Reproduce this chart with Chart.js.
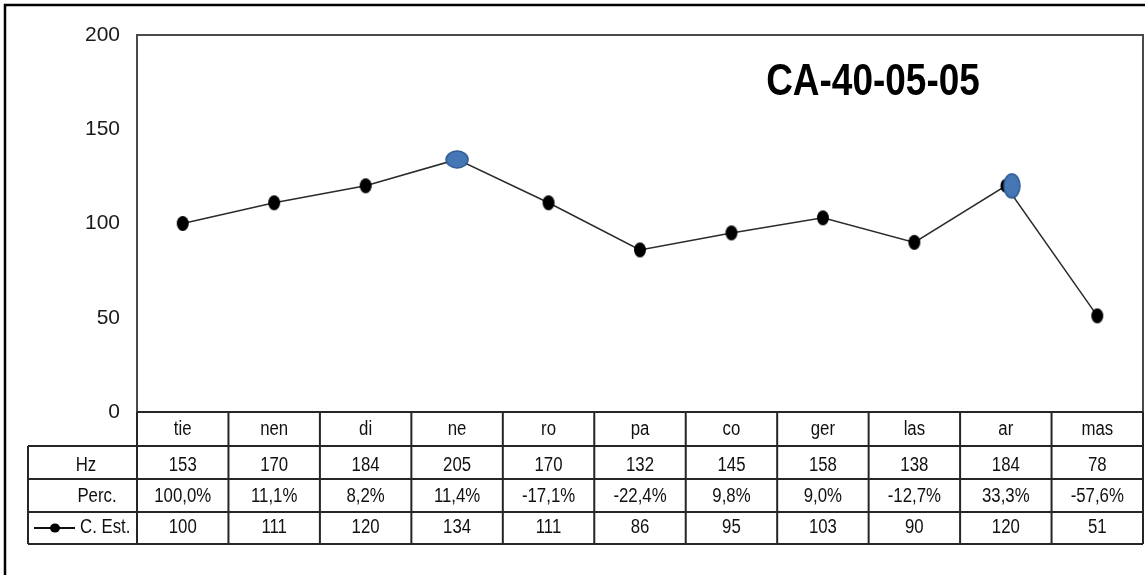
<!DOCTYPE html>
<html>
<head>
<meta charset="utf-8">
<script src="https://cdn.jsdelivr.net/npm/chart.js@4.4.1/dist/chart.umd.min.js"></script>
<style>
  html, body { margin: 0; padding: 0; background: #fff; }
  canvas { display: block; }
</style>
</head>
<body>
<canvas id="chart" width="1145" height="575"></canvas>
<script>
var categories = ['tie', 'nen', 'di', 'ne', 'ro', 'pa', 'co', 'ger', 'las', 'ar', 'mas'];
var hz         = [153, 170, 184, 205, 170, 132, 145, 158, 138, 184, 78];
var perc       = ['100,0%', '11,1%', '8,2%', '11,4%', '-17,1%', '-22,4%', '9,8%', '9,0%', '-12,7%', '33,3%', '-57,6%'];
var cEst       = [100, 111, 120, 134, 111, 86, 95, 103, 90, 120, 51];
var yTicks     = [0, 50, 100, 150, 200];

var chartTitle = 'CA-40-05-05';
var FONT = '"Liberation Sans", Arial, sans-serif';

// marker shapes (the picture is slightly squeezed, so dots are ellipses)
function ellipseCanvas (w, h, fill, stroke, dx, under) {
  var c = document.createElement('canvas');
  var pad = Math.abs(dx || 0);
  c.width = Math.ceil(w + 2 + pad * 2);
  c.height = Math.ceil(h + 2);
  var g = c.getContext('2d');
  var cx = c.width / 2, cy = c.height / 2;
  if (under) {
    g.fillStyle = '#000';
    g.beginPath();
    g.ellipse(cx, cy, 5.5, 7, 0, 0, Math.PI * 2);
    g.fill();
  }
  g.fillStyle = fill;
  g.beginPath();
  g.ellipse(cx + (dx || 0), cy, w / 2, h / 2, 0, 0, Math.PI * 2);
  g.fill();
  if (stroke) {
    g.strokeStyle = stroke;
    g.lineWidth = 1.5;
    g.stroke();
  }
  return c;
}

var dot    = ellipseCanvas(12, 15, '#000');
var blueNe = ellipseCanvas(22, 17, '#4677b5', '#2d5a92');
var blueAr = ellipseCanvas(16, 24, '#4677b5', '#2d5a92', 6, true);

var markers = categories.map(function (c) {
  if (c === 'ne') return blueNe;
  if (c === 'ar') return blueAr;
  return dot;
});

function squeezedText (ctx, text, x, y, font, align, sx) {
  ctx.save();
  ctx.font = font;
  ctx.textAlign = align;
  ctx.textBaseline = 'alphabetic';
  ctx.translate(x, y);
  ctx.scale(sx, 1);
  ctx.fillText(text, 0, 0);
  ctx.restore();
}

var tablePlugin = {
  id: 'dataTable',
  afterDraw: function (chart) {
    var ctx = chart.ctx;
    var area = chart.chartArea;
    var xs = chart.scales.x;
    var colW = xs.getPixelForValue(1) - xs.getPixelForValue(0);
    var rowH = 33;
    var rows = [area.bottom, area.bottom + 34, area.bottom + 34 + rowH, area.bottom + 34 + rowH * 2, area.bottom + 34 + rowH * 3 - 1];
    var headLeft = 28;
    var tableFont = '20px ' + FONT;

    ctx.save();

    // outer frame
    ctx.strokeStyle = '#000';
    ctx.lineWidth = 2.5;
    ctx.beginPath();
    ctx.moveTo(5, chart.height);
    ctx.lineTo(5, 5);
    ctx.lineTo(chart.width, 5);
    ctx.stroke();

    // plot area border
    ctx.strokeStyle = '#4a4a4a';
    ctx.lineWidth = 2;
    ctx.strokeRect(area.left, area.top, area.right - area.left, area.bottom - area.top);

    // table grid
    ctx.strokeStyle = '#262626';
    ctx.lineWidth = 2;
    ctx.beginPath();
    ctx.moveTo(area.left, rows[0]);
    ctx.lineTo(area.right, rows[0]);
    for (var r = 1; r < rows.length; r++) {
      ctx.moveTo(headLeft, rows[r]);
      ctx.lineTo(area.right, rows[r]);
    }
    ctx.moveTo(headLeft, rows[1]);
    ctx.lineTo(headLeft, rows[4]);
    for (var i = 0; i <= categories.length; i++) {
      var bx = xs.getPixelForValue(0) - colW / 2 + i * colW;
      ctx.moveTo(bx, rows[0]);
      ctx.lineTo(bx, rows[4]);
    }
    ctx.stroke();

    // cell texts
    ctx.fillStyle = '#111';
    categories.forEach(function (c, i) {
      var cx = xs.getPixelForValue(i);
      squeezedText(ctx, c, cx, rows[0] + 23, tableFont, 'center', 0.84);
      squeezedText(ctx, String(hz[i]), cx, rows[1] + 25, tableFont, 'center', 0.84);
      squeezedText(ctx, perc[i], cx, rows[2] + 23, tableFont, 'center', 0.84);
      squeezedText(ctx, String(cEst[i]), cx, rows[3] + 21, tableFont, 'center', 0.84);
    });

    // row headers
    squeezedText(ctx, 'Hz', 86, rows[1] + 25, tableFont, 'center', 0.84);
    squeezedText(ctx, 'Perc.', 97, rows[2] + 23, tableFont, 'center', 0.84);
    squeezedText(ctx, 'C. Est.', 80, rows[3] + 21, tableFont, 'left', 0.84);

    // legend key
    var ky = rows[3] + 16;
    ctx.strokeStyle = '#111';
    ctx.lineWidth = 2;
    ctx.beginPath();
    ctx.moveTo(34, ky);
    ctx.lineTo(75, ky);
    ctx.stroke();
    ctx.fillStyle = '#000';
    ctx.beginPath();
    ctx.ellipse(55, ky, 5, 4.5, 0, 0, Math.PI * 2);
    ctx.fill();

    // title inside the plot
    ctx.fillStyle = '#000';
    squeezedText(ctx, chartTitle, 873, 95, 'bold 44px ' + FONT, 'center', 0.84);

    ctx.restore();
  }
};

new Chart(document.getElementById('chart'), {
  type: 'line',
  data: {
    labels: categories,
    datasets: [{
      label: 'C. Est.',
      data: cEst,
      borderColor: '#2b2b2b',
      borderWidth: 1.5,
      tension: 0,
      pointStyle: markers,
      pointRadius: 1,
      pointBorderWidth: 0,
      pointHoverRadius: 1
    }]
  },
  options: {
    responsive: false,
    animation: false,
    layout: { padding: { top: 35, right: 2, bottom: 163, left: 0 } },
    plugins: {
      legend: { display: false },
      tooltip: { enabled: false },
      title: { display: false }
    },
    scales: {
      x: {
        display: false,
        offset: true
      },
      y: {
        min: 0,
        max: 200,
        afterBuildTicks: function (scale) {
          scale.ticks = yTicks.map(function (v) { return { value: v }; });
        },
        afterFit: function (scale) { scale.width = 137; },
        grid: { display: false, drawTicks: false },
        border: { display: false },
        ticks: {
          padding: 17,
          color: '#1a1a1a',
          font: { family: FONT, size: 21 }
        }
      }
    }
  },
  plugins: [tablePlugin]
});
</script>
</body>
</html>
